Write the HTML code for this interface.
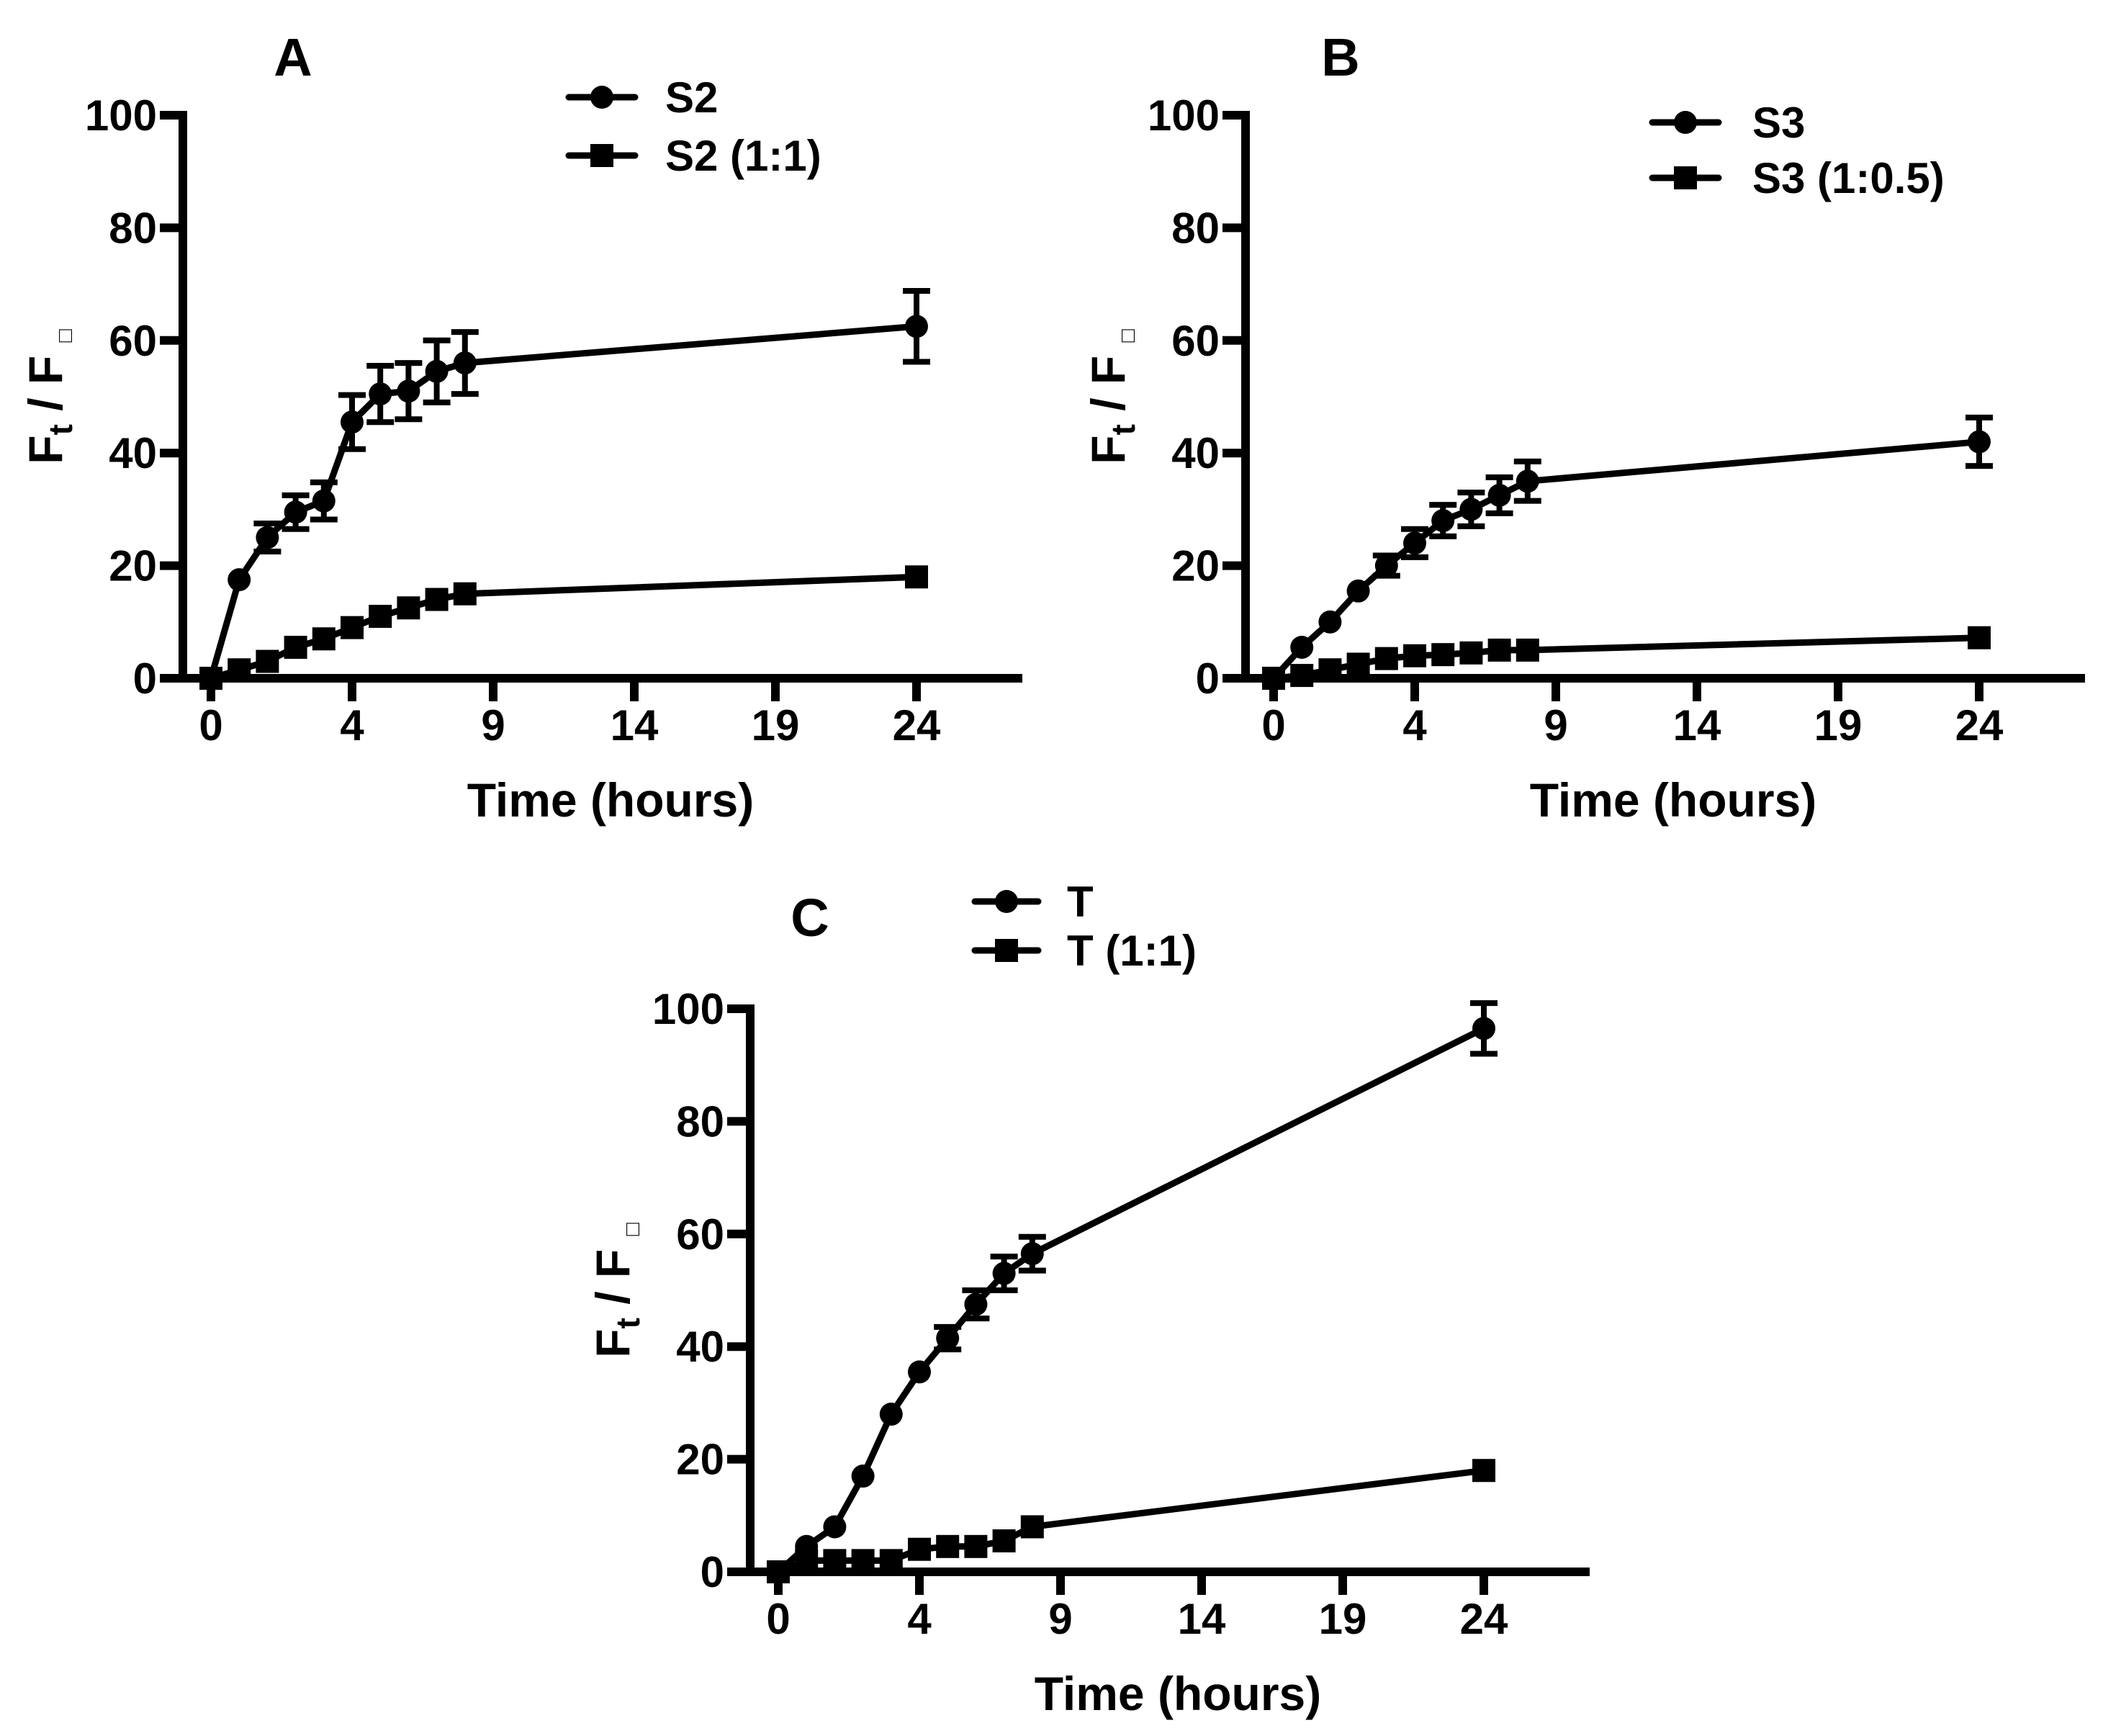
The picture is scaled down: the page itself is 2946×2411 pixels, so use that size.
<!DOCTYPE html>
<html><head><meta charset="utf-8"><style>
html,body{margin:0;padding:0;background:#fff;}
svg{display:block;font-family:"Liberation Sans",Arial,sans-serif;font-weight:bold;}
</style></head><body>
<svg id="fig" width="2946" height="2411" viewBox="0 0 2946 2411"></svg>
<script>
const timeIdx = [0,1,2,3,4,5,6,7,8,9,25];
const xTickVals = [0,5,10,15,20,25];
const xTickLabels = ["0","4","9","14","19","24"];
const yTickVals = [0,20,40,60,80,100];
const yTickLabels = ["0","20","40","60","80","100"];

const s2Vals = [0,17.5,25,29.5,31.5,45.5,50.5,51,54.5,56,62.5];
const s2Err  = [0,0,2.5,3,3.3,4.8,5,5,5.5,5.5,6.3];
const s2mVals = [0,1.5,3,5.5,7,9,11,12.5,14,15,18];
const s3Vals = [0,5.5,10,15.5,20,24,28,30,32.5,35,42];
const s3Err  = [0,0,0,0,1.8,2.5,2.8,3,3.2,3.5,4.3];
const s3mVals = [0,0.5,1.5,2.5,3.5,4,4.2,4.5,5,5,7.2];
const tVals = [0,4.5,8,17,28,35.5,41.5,47.5,53,56.5,96.5];
const tErr  = [0,0,0,0,0,0,2,2.5,3,3,4.5];
const tmVals = [0,2,2,2,2,4,4.5,4.5,5.5,8,18];

const NS="http://www.w3.org/2000/svg";
const svg=document.getElementById('fig');
function mk(tag,attrs,parent){const e=document.createElementNS(NS,tag);for(const k in attrs)e.setAttribute(k,attrs[k]);(parent||svg).appendChild(e);return e;}

const panels=[
 {id:'a',ox:0,oy:0,letter:'A',lx:407,ly:0,series:[
   {name:'S2',vals:s2Vals,err:s2Err,shape:'circle'},
   {name:'S2 (1:1)',vals:s2mVals,err:null,shape:'square'}],
   leg:{x1:790,x2:882,tx:924,y1:135,y2:216}},
 {id:'b',ox:1476,oy:0,letter:'B',lx:0,ly:0,series:[
   {name:'S3',vals:s3Vals,err:s3Err,shape:'circle'},
   {name:'S3 (1:0.5)',vals:s3mVals,err:null,shape:'square'}],
   leg:{x1:2295,x2:2387,tx:2434,y1:170,y2:247}},
 {id:'c',ox:788,oy:1241,letter:'C',lx:0,ly:0,series:[
   {name:'T',vals:tVals,err:tErr,shape:'circle'},
   {name:'T (1:1)',vals:tmVals,err:null,shape:'square'}],
   leg:{x1:1354,x2:1442,tx:1482,y1:1252,y2:1320}}
];
const letterPos={a:[407,105],b:[1862,105],c:[1125,1300]};

panels.forEach(p=>{
  const g=mk('g',{});
  
  
  const axX=254+p.ox, y0=942+p.oy, y100=160+p.oy, x0=293+p.ox, ux=39.2, right=1420+p.ox;
  const X=t=>x0+t*ux, Y=v=>y0-(v/100)*(y0-y100);
  // axes
  const ya=mk('line',{x1:axX,y1:y100-6,x2:axX,y2:y0+6,stroke:'#000','stroke-width':12},g);
  
  const xa=mk('line',{x1:axX-6,y1:y0,x2:right,y2:y0,stroke:'#000','stroke-width':12},g);
  
  yTickVals.forEach((v,i)=>{
    mk('line',{x1:axX-32,y1:Y(v),x2:axX,y2:Y(v),stroke:'#000','stroke-width':12},g);
    const t=mk('text',{x:axX-36,y:Y(v)+21,'text-anchor':'end','font-size':60},g);
    t.textContent=yTickLabels[i];
    
    
  });
  xTickVals.forEach((v,i)=>{
    mk('line',{x1:X(v),y1:y0,x2:X(v),y2:y0+32,stroke:'#000','stroke-width':12},g);
    const t=mk('text',{x:X(v),y:y0+86,'text-anchor':'middle','font-size':60},g);
    t.textContent=xTickLabels[i];
    
    
  });
  // titles
  const xt=mk('text',{x:x0+555,y:y0+192,'text-anchor':'middle','font-size':66},g);
  xt.textContent='Time (hours)';
  
  
  const cy=(y0+y100)/2, tx=axX-168;
  const yt=mk('text',{x:tx,y:cy,'text-anchor':'middle','font-size':66,transform:`rotate(-90 ${tx} ${cy})`},g);
  yt.innerHTML='F<tspan font-size="46" dy="14">t</tspan><tspan dy="-14"> / F </tspan><tspan font-size="30" font-weight="normal" dy="14">□</tspan>';
  
  
  const L=letterPos[p.id];
  const lt=mk('text',{x:L[0],y:L[1],'text-anchor':'middle','font-size':74},g);
  lt.textContent=p.letter;
  
  
  // series
  p.series.forEach((s,si)=>{
    const sg=mk('g',{},g);
    
    
    const pts=s.vals.map((v,i)=>X(timeIdx[i])+','+Y(v)).join(' ');
    mk('polyline',{points:pts,fill:'none',stroke:'#000','stroke-width':9,'stroke-linejoin':'round'},sg);
    s.vals.forEach((v,i)=>{
      const cx=X(timeIdx[i]), cyy=Y(v);
      if(s.err&&s.err[i]>0){
        const e=s.err[i];
        mk('line',{x1:cx,y1:Y(v+e),x2:cx,y2:Y(v-e),stroke:'#000','stroke-width':8},sg);
        mk('line',{x1:cx-19,y1:Y(v+e),x2:cx+19,y2:Y(v+e),stroke:'#000','stroke-width':8},sg);
        mk('line',{x1:cx-19,y1:Y(v-e),x2:cx+19,y2:Y(v-e),stroke:'#000','stroke-width':8},sg);
      }
      let m;
      if(s.shape==='circle') m=mk('circle',{cx:cx,cy:cyy,r:16,fill:'#000'},sg);
      else m=mk('rect',{x:cx-16,y:cyy-16,width:32,height:32,fill:'#000'},sg);
      
      
    });
  });
  // legend
  const lg=mk('g',{},g);
  
  
  p.series.forEach((s,si)=>{
    const ly=si===0?p.leg.y1:p.leg.y2;
    const eg=mk('g',{},lg);
    
    
    mk('line',{x1:p.leg.x1,y1:ly,x2:p.leg.x2,y2:ly,stroke:'#000','stroke-width':9,'stroke-linecap':'round'},eg);
    const mx=(p.leg.x1+p.leg.x2)/2;
    if(s.shape==='circle') mk('circle',{cx:mx,cy:ly,r:16,fill:'#000'},eg);
    else mk('rect',{x:mx-16,y:ly-16,width:32,height:32,fill:'#000'},eg);
    const t=mk('text',{x:p.leg.tx,y:ly+21,'font-size':60},eg);
    t.textContent=s.name;
  });
});
</script>
</body></html>
